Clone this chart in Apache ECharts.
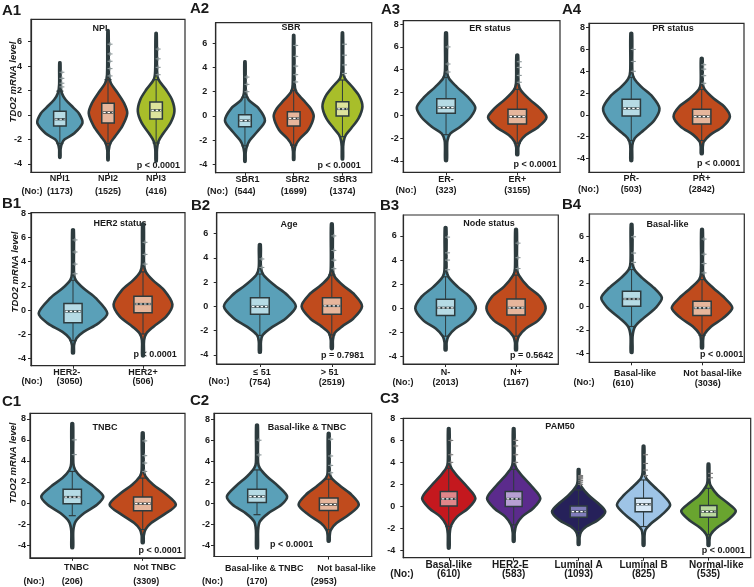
<!DOCTYPE html>
<html><head><meta charset="utf-8">
<script src="https://cdn.jsdelivr.net/npm/echarts@6/dist/echarts.min.js"></script>
<style>html,body{margin:0;padding:0;background:#fff}#chart{width:754px;height:587px}</style>
</head><body><div id="chart"></div>
<script>
// ---------------- DATA ----------------
const panelLetters = ['A1','A2','A3','A4','B1','B2','B3','B4','C1','C2','C3'];
const panelTitles = ['NPI','SBR','ER status','PR status','HER2 status','Age','Node status','Basal-like','TNBC','Basal-like & TNBC','PAM50'];
const pValueTexts = ['p < 0.0001','p < 0.0001','p < 0.0001','p < 0.0001','p < 0.0001','p = 0.7981','p = 0.5642','p < 0.0001','p < 0.0001','p < 0.0001','p < 0.0001'];
const yAxisTitle = 'TDO2 mRNA level';
const countsLabel = '(No:)';
const categories = [
  ['NPI1','NPI2','NPI3'],
  ['SBR1','SBR2','SBR3'],
  ['ER-','ER+'],
  ['PR-','PR+'],
  ['HER2-','HER2+'],
  ['≤ 51','> 51'],
  ['N-','N+'],
  ['Basal-like','Not basal-like'],
  ['TNBC','Not TNBC'],
  ['Basal-like & TNBC','Not basal-like'],
  ['Basal-like','HER2-E','Luminal A','Luminal B','Normal-like']
];
const sampleCounts = [
  [1173,1525,416],[544,1699,1374],[323,3155],[503,2842],[3050,506],[754,2519],
  [2013,1167],[610,3036],[206,3309],[170,2953],[610,583,1093,825,535]
];
const yTickValues = [
  [-4,-2,0,2,4,6],[-4,-2,0,2,4,6],[-4,-2,0,2,4,6,8],[-4,-2,0,2,4,6,8],
  [-4,-2,0,2,4,6,8],[-4,-2,0,2,4,6],[-4,-2,0,2,4,6],[-4,-2,0,2,4,6],
  [-4,-2,0,2,4,6,8],[-4,-2,0,2,4,6,8],[-4,-2,0,2,4,6,8]
];
// box statistics per group: [q1, median, q3, lower whisker, upper whisker]
const boxStats = [
  [[-0.9,-0.35,0.3,-2.35,1.95],[-0.65,0.2,0.95,-2.35,2.9],[-0.33,0.38,1.07,-2.3,2.9]],
  [[-0.88,-0.38,0.1,-2.45,1.55],[-0.82,-0.2,0.35,-2.4,2.1],[0.0,0.58,1.18,-1.7,2.96]],
  [[0.18,0.67,1.46,-1.7,3.33],[-0.76,-0.12,0.53,-2.45,2.28]],
  [[-0.1,0.6,1.44,-2.35,3.45],[-0.83,-0.15,0.52,-2.35,2.35]],
  [[-1.04,-0.11,0.55,-2.53,2.47],[-0.22,0.5,1.15,-1.98,3.16]],
  [[-0.66,-0.03,0.71,-2.4,2.66],[-0.66,0.03,0.71,-2.36,2.58]],
  [[-0.58,0.05,0.75,-2.3,2.62],[-0.55,0.05,0.77,-2.3,2.76]],
  [[0.03,0.66,1.32,-1.7,3.19],[-0.75,-0.11,0.46,-2.47,2.33]],
  [[-0.06,0.57,1.32,-1.2,3.0],[-0.73,-0.06,0.57,-2.52,2.37]],
  [[0.06,0.63,1.33,-1.1,3.17],[-0.7,-0.13,0.48,-2.54,2.29]],
  [[0.03,0.67,1.34,-1.85,3.47],[-0.03,0.67,1.34,-1.7,3.37],[-1.0,-0.49,0.03,-2.31,1.49],[-0.49,0.18,0.73,-1.85,2.4],[-1.0,-0.49,0.06,-2.6,1.64]]
];
// violin density profiles per group: [value, half-width (x-axis units)], bottom to top
const violinProfiles = [
  [
    [[-3.5,0.012],[-2.8,0.015],[-2.35,0.04],[-2.0,0.1],[-1.5,0.3],[-0.65,0.47],[0.1,0.4],[0.6,0.28],[1.25,0.12],[1.8,0.04],[2.5,0.015],[4.3,0.012]],
    [[-3.7,0.012],[-2.9,0.015],[-2.3,0.05],[-1.75,0.15],[-0.9,0.3],[0.15,0.4],[1.0,0.33],[1.8,0.2],[2.6,0.06],[3.3,0.02],[6.94,0.012]],
    [[-3.8,0.012],[-2.8,0.018],[-2.15,0.05],[-1.5,0.15],[-0.65,0.3],[0.3,0.38],[1.25,0.33],[2.1,0.2],[2.9,0.05],[3.6,0.02],[6.72,0.012]]
  ],
  [
    [[-3.75,0.012],[-3.0,0.015],[-2.5,0.04],[-2.0,0.1],[-1.3,0.25],[-0.38,0.41],[0.63,0.28],[1.3,0.08],[1.9,0.02],[4.47,0.012]],
    [[-3.6,0.012],[-2.9,0.015],[-2.4,0.04],[-1.85,0.13],[-1.15,0.3],[-0.05,0.41],[0.6,0.35],[1.3,0.2],[2.0,0.05],[2.6,0.02],[6.66,0.012]],
    [[-3.56,0.012],[-2.5,0.015],[-2.0,0.03],[-1.55,0.07],[-1.0,0.18],[-0.2,0.33],[0.77,0.41],[1.6,0.35],[2.4,0.2],[3.1,0.05],[3.7,0.02],[6.85,0.012]]
  ],
  [
    [[-4.0,0.012],[-2.8,0.015],[-2.2,0.02],[-1.6,0.06],[-1.0,0.2],[-0.12,0.35],[0.7,0.41],[1.64,0.3],[2.5,0.15],[3.25,0.04],[3.9,0.015],[7.25,0.012]],
    [[-3.48,0.012],[-2.8,0.015],[-2.3,0.04],[-1.73,0.12],[-1.0,0.3],[-0.18,0.41],[0.6,0.32],[1.35,0.18],[2.2,0.05],[2.8,0.018],[5.3,0.012]]
  ],
  [
    [[-4.2,0.012],[-2.8,0.015],[-2.14,0.05],[-1.38,0.18],[-0.46,0.33],[0.6,0.4],[1.68,0.3],[2.6,0.14],[3.36,0.04],[4.0,0.015],[7.5,0.012]],
    [[-3.58,0.012],[-2.9,0.015],[-2.45,0.03],[-1.83,0.12],[-1.07,0.3],[-0.15,0.4],[0.76,0.32],[1.5,0.17],[2.35,0.04],[2.9,0.015],[5.2,0.012]]
  ],
  [
    [[-3.57,0.012],[-2.9,0.015],[-2.33,0.05],[-1.8,0.15],[-1.1,0.36],[-0.27,0.49],[0.96,0.33],[1.8,0.15],[2.47,0.04],[3.0,0.015],[6.65,0.012]],
    [[-3.8,0.012],[-2.5,0.015],[-1.92,0.05],[-1.37,0.15],[-0.55,0.33],[0.47,0.42],[1.65,0.3],[2.47,0.14],[3.16,0.04],[3.8,0.015],[7.14,0.012]]
  ],
  [
    [[-3.8,0.012],[-2.9,0.015],[-2.36,0.04],[-1.67,0.18],[-1.0,0.36],[0,0.5],[0.93,0.38],[1.75,0.2],[2.58,0.05],[3.2,0.015],[5.1,0.012]],
    [[-3.5,0.012],[-2.75,0.015],[-2.2,0.04],[-1.67,0.14],[-1.0,0.3],[0,0.42],[0.93,0.32],[1.75,0.15],[2.44,0.04],[3.0,0.015],[6.8,0.012]]
  ],
  [
    [[-3.45,0.012],[-2.8,0.015],[-2.3,0.04],[-1.66,0.14],[-0.97,0.32],[0,0.43],[0.97,0.34],[1.8,0.17],[2.62,0.04],[3.2,0.015],[6.7,0.012]],
    [[-3.45,0.012],[-2.8,0.015],[-2.3,0.04],[-1.66,0.14],[-0.97,0.32],[0,0.42],[0.97,0.34],[1.8,0.17],[2.76,0.04],[3.3,0.015],[6.55,0.012]]
  ],
  [
    [[-3.94,0.012],[-2.5,0.015],[-1.7,0.05],[-0.98,0.17],[-0.11,0.34],[0.75,0.43],[1.6,0.32],[2.47,0.15],[3.19,0.04],[3.8,0.015],[7.07,0.012]],
    [[-3.56,0.012],[-2.9,0.015],[-2.4,0.03],[-1.7,0.13],[-0.98,0.3],[-0.1,0.43],[0.75,0.32],[1.6,0.16],[2.33,0.04],[2.9,0.015],[6.64,0.012]]
  ],
  [
    [[-4.26,0.012],[-2.6,0.015],[-1.73,0.05],[-0.95,0.17],[-0.16,0.35],[0.63,0.44],[1.58,0.3],[2.37,0.14],[3.15,0.04],[3.8,0.015],[7.57,0.012]],
    [[-3.79,0.012],[-3.1,0.015],[-2.5,0.04],[-1.9,0.12],[-1.1,0.3],[-0.16,0.47],[0.95,0.31],[1.73,0.15],[2.52,0.04],[3.1,0.015],[6.69,0.012]]
  ],
  [
    [[-4.29,0.012],[-2.6,0.015],[-1.75,0.04],[-0.95,0.16],[-0.16,0.34],[0.63,0.42],[1.59,0.3],[2.54,0.14],[3.33,0.04],[3.9,0.015],[7.46,0.012]],
    [[-3.65,0.012],[-3.1,0.015],[-2.54,0.03],[-1.9,0.11],[-1.11,0.28],[-0.16,0.42],[0.79,0.32],[1.59,0.17],[2.38,0.04],[2.9,0.015],[6.67,0.012]]
  ],
  [
    [[-3.83,0.012],[-2.5,0.015],[-1.7,0.04],[-0.94,0.13],[-0.18,0.3],[0.73,0.41],[1.8,0.28],[2.7,0.14],[3.47,0.04],[4.0,0.015],[7.1,0.012]],
    [[-3.22,0.012],[-2.4,0.015],[-1.7,0.04],[-0.94,0.13],[-0.18,0.3],[0.73,0.41],[1.8,0.28],[2.7,0.14],[3.47,0.04],[4.0,0.015],[7.1,0.012]],
    [[-3.5,0.012],[-2.8,0.015],[-2.31,0.04],[-1.85,0.12],[-1.25,0.3],[-0.49,0.41],[0.27,0.3],[1.03,0.15],[1.8,0.04],[2.3,0.015],[3.37,0.012]],
    [[-3.59,0.012],[-2.7,0.015],[-2.16,0.03],[-1.55,0.12],[-0.79,0.28],[0.12,0.41],[1.03,0.3],[1.8,0.16],[2.55,0.04],[3.1,0.015],[5.5,0.012]],
    [[-3.59,0.012],[-3.1,0.015],[-2.6,0.03],[-2.0,0.12],[-1.25,0.3],[-0.43,0.42],[0.27,0.3],[1.03,0.14],[1.8,0.04],[2.3,0.015],[3.86,0.012]]
  ]
];
// outlying points (beyond whiskers) that stand out beside the tails
const outlierValues = [
  [[2.3,2.6,3.0,3.5],[3.2,3.8,4.4,5.0,5.8],[3.3,3.9,4.6,5.4]],
  [[2.0,2.6,3.2],[2.8,3.4,4.1,4.9,5.8],[3.5,4.2,5.0,5.9]],
  [[3.8,4.5,6.0],[2.9,3.5,4.2,4.7]],
  [[4.0,4.9,6.0],[2.9,3.6,4.2,4.6]],
  [[3.0,3.8,4.8,5.8],[3.8,4.6,5.6]],
  [[3.2,3.9],[3.1,3.8,4.6,5.8]],
  [[3.2,4.0,4.6,5.9],[3.3,4.2,5.4]],
  [[3.8,4.6,6.0],[2.9,3.7,4.5,5.8]],
  [[4.6,6.0],[3.0,3.8,4.5,5.9]],
  [[4.6,6.0],[2.9,3.6,4.5,6.1]],
  [[4.0,4.7,6.0],[4.0,4.7,5.5,6.0],[2.0,2.2,2.35,2.5,2.6,2.7,2.8],[2.8,3.3,3.9,4.7],[2.6,3.0]]
];

// ---------------- STYLE / LAYOUT ----------------
const FONT = '"Liberation Sans", Arial, Helvetica, sans-serif';
const OUTLINE = '#2d3b3e';
const TEXT = '#1a1a1a';
const baseFills = ['#5aa0b8', '#c04b1d', '#a8be2a'];
const baseBoxFills = ['#b6dbe5', '#e6b69c', '#dde39c'];
const pamFills = ['#c4181e', '#5b2b8c', '#26215a', '#9ec4e6', '#69a42f'];
const pamBoxFills = ['#e0868a', '#b79fd3', '#807cba', '#d9e9f6', '#b9d99d'];

const layouts = [
  {g:[31,19.3,154,153],   y:[-4.7,7.84], x:[0.4,3.6], ym:9,  c1:6.7, c2:19.4, letter:[2,11],   title:[100,28.3], p:[180,165.7,'right'], no:[32,191.7], ls:[0,0,0], cs:[0,0,0], yname:[13.5,82]},
  {g:[215.7,22.7,156,150],y:[-4.66,7.67],x:[0.4,3.6], ym:8.4,c1:7.3, c2:19,   letter:[190,9],  title:[291,28],   p:[360.7,165.7,'right'], no:[217.5,191.7], ls:[0.05,0.08,0.05], cs:[0,0,0]},
  {g:[403.3,20.7,156.7,151.6],y:[-5.0,8.3],x:[0.4,2.6], ym:4.5,c1:7.7, c2:18.4, letter:[381,10], title:[490,29],   p:[556.7,164.3,'right'], no:[406,191], ls:[0,0], cs:[0,0]},
  {g:[589,23.3,155,149],  y:[-5.26,8.4], x:[0.4,2.6], ym:4,  c1:6.7, c2:17.7, letter:[562,10], title:[673,29],   p:[740.3,163.3,'right'], no:[588.5,190], ls:[0,0], cs:[0,0]},
  {g:[31,212.7,154,153],  y:[-4.6,8.05], x:[0.4,2.6], ym:5,  c1:7.3, c2:16.3, letter:[2,204],  title:[120,224],  p:[176.7,355,'right'], no:[32,382], ls:[-0.09,0], cs:[-0.05,0], yname:[15,272]},
  {g:[216.7,212.7,158.3,151.3],y:[-4.75,7.71],x:[0.4,2.6], ym:8.4,c1:8.7, c2:18.7, letter:[191,206], title:[289,224.3], p:[364.3,355.7,'right'], no:[219,382], ls:[0.03,-0.03], cs:[0,0]},
  {g:[403.3,215,155,149], y:[-4.6,7.73], x:[0.4,2.6], ym:6.6,c1:8.7, c2:18.7, letter:[380,206], title:[489,224],  p:[553.3,356,'right'], no:[403,383], ls:[0,0], cs:[0,0]},
  {g:[589.3,214,155,148.3],y:[-4.77,7.95],x:[0.4,2.6], ym:5.3,c1:11,  c2:21,   letter:[562,205], title:[667.5,224.3], p:[743.3,354.3,'right'], no:[584,383], ls:[0.05,0.15], cs:[-0.12,0.08]},
  {g:[30,413.3,155,145],  y:[-5.2,8.52], x:[0.4,2.6], ym:4,  c1:9.7, c2:23.7, letter:[2,402],  title:[105,427.7], p:[181.7,551,'right'], no:[34,582], ls:[0.06,0.17], cs:[0,0.05], yname:[13.5,463]},
  {g:[214,413.3,157.7,143.4],y:[-5.09,8.57],x:[0.4,2.6], ym:4,  c1:11.6,c2:25,   letter:[190,401], title:[307,427.3], p:[291.7,545,'center'], no:[212.5,582], ls:[0.1,0.25], cs:[0,-0.07]},
  {g:[403.3,418.3,347.4,139.4],y:[-4.69,8.02],x:[0.3,5.65], ym:8, c1:7.3, c2:16.3, letter:[380,399], title:[560,426.7], p:[745,550.7,'right'], no:[402,574], ls:[0,-0.05,0,0,0.12], cs:[0,0,0,0,0], fs:10}
];
const BOX_HALF = 0.13;

// ---------------- BUILD ----------------
const grids = [], xAxes = [], yAxes = [], series = [], graphics = [];
layouts.forEach((L, p) => {
  const fs = L.fs || 9;
  grids.push({left:L.g[0], top:L.g[1], width:L.g[2], height:L.g[3], show:true, borderColor:'#2a2a2a', borderWidth:1.2, backgroundColor:'transparent'});
  const catIdx = categories[p].map((c,i)=>i+1);
  xAxes.push({
    type:'value', gridIndex:p, min:L.x[0], max:L.x[1],
    splitLine:{show:false},
    axisLine:{show:true, onZero:false, lineStyle:{color:'#2a2a2a', width:1.2}},
    axisTick:{show:true, customValues:catIdx, length:3, lineStyle:{color:'#2a2a2a'}},
    axisLabel:{show:true, customValues:catIdx.map((v,i)=>v+L.ls[i]), margin:L.c1-5.5,
      fontFamily:FONT, fontWeight:'bold', fontSize:fs, color:TEXT, lineHeight:11,
      formatter:(v)=>categories[p][Math.round(v)-1]}
  });
  xAxes.push({
    type:'value', gridIndex:p, min:L.x[0], max:L.x[1], position:'bottom',
    splitLine:{show:false}, axisLine:{show:false}, axisTick:{show:false},
    axisLabel:{show:true, customValues:catIdx.map((v,i)=>v+L.cs[i]), margin:L.c2-5.5,
      fontFamily:FONT, fontWeight:'bold', fontSize:fs, color:TEXT, lineHeight:11,
      formatter:(v)=>'(' + sampleCounts[p][Math.round(v)-1] + ')'}
  });
  yAxes.push({
    type:'value', gridIndex:p, min:L.y[0], max:L.y[1],
    splitLine:{show:false},
    axisLine:{show:true, onZero:false, lineStyle:{color:'#2a2a2a', width:1.2}},
    axisTick:{show:true, customValues:yTickValues[p], length:3, lineStyle:{color:'#2a2a2a'}},
    axisLabel:{show:true, customValues:yTickValues[p], margin:L.ym, fontFamily:FONT, fontWeight:'bold', fontSize:9, color:TEXT}
  });
  const fills = p === 10 ? pamFills : baseFills;
  const boxFills = p === 10 ? pamBoxFills : baseBoxFills;
  const outColor = p === 10 ? '#7a7a7a' : '#8a9597';
  series.push({
    type:'custom', xAxisIndex:2*p, yAxisIndex:p, clip:false,
    data: categories[p].map((c,i)=>[i+1, boxStats[p][i][1], i]),
    encode:{x:0, y:1},
    renderItem:function(params, api){
      const gi = api.value(2);
      const xc = api.value(0);
      const prof = violinProfiles[p][gi];
      const st = boxStats[p][gi];
      const right = prof.map(d => api.coord([xc + d[1], d[0]]));
      const left = prof.slice().reverse().map(d => api.coord([xc - d[1], d[0]]));
      const px = api.coord([xc, 0])[0];
      const yv = v => api.coord([xc, v])[1];
      const bx0 = api.coord([xc - BOX_HALF, 0])[0], bx1 = api.coord([xc + BOX_HALF, 0])[0];
      const yq1 = yv(st[0]), ymed = yv(st[1]), yq3 = yv(st[2]), ywl = yv(st[3]), ywh = yv(st[4]);
      const children = [
        {type:'polygon', shape:{points:right.concat(left), smooth:0.3}, style:{fill:fills[gi], stroke:OUTLINE, lineWidth:2.6, lineJoin:'round'}},
        {type:'line', shape:{x1:px, y1:ywl, x2:px, y2:ywh}, style:{stroke:OUTLINE, lineWidth:1}},
        {type:'line', shape:{x1:px-3.5, y1:ywl, x2:px+3.5, y2:ywl}, style:{stroke:OUTLINE, lineWidth:1.2}},
        {type:'line', shape:{x1:px-3.5, y1:ywh, x2:px+3.5, y2:ywh}, style:{stroke:OUTLINE, lineWidth:1.2}},
        {type:'rect', shape:{x:bx0, y:yq3, width:bx1-bx0, height:yq1-yq3}, style:{fill:boxFills[gi], stroke:OUTLINE, lineWidth:1.5}},
        {type:'line', shape:{x1:bx0+1, y1:ymed, x2:bx1-1, y2:ymed}, style:{stroke:OUTLINE, lineWidth:2.2}},
        {type:'line', shape:{x1:bx0+1.5, y1:ymed, x2:bx1-1.5, y2:ymed}, style:{stroke:'#ffffff', lineWidth:1.2, lineDash:[2.5,1.8]}}
      ];
      (outlierValues[p][gi] || []).forEach(v => {
        const oy = yv(v);
        children.push({type:'line', shape:{x1:px-0.5, y1:oy, x2:px+4.5, y2:oy}, style:{stroke:outColor, lineWidth:1.1}});
        children.push({type:'line', shape:{x1:px+2, y1:oy-2, x2:px+2, y2:oy+2}, style:{stroke:outColor, lineWidth:1}});
      });
      return {type:'group', children:children};
    }
  });
  const txt = (s, x, y, size, align, extra) => Object.assign({
    type:'text', x:x, y:y, silent:true,
    style:{text:s, fill:TEXT, fontFamily:FONT, fontWeight:'bold', fontSize:size, align:align, verticalAlign:'middle', textAlign:align, textVerticalAlign:'middle'}
  }, extra || {});
  graphics.push(txt(panelLetters[p], L.letter[0], L.letter[1], 15, 'left'));
  graphics.push(txt(panelTitles[p], L.title[0], L.title[1], 9, 'center'));
  graphics.push(txt(pValueTexts[p], L.p[0], L.p[1], 9, L.p[2]));
  graphics.push(txt(countsLabel, L.no[0], L.no[1], fs, 'center'));
  if (L.yname) {
    const t = txt(yAxisTitle, L.yname[0], L.yname[1], 9.5, 'center', {rotation:Math.PI/2});
    t.style.fontStyle = 'italic';
    graphics.push(t);
  }
});

const chart = echarts.init(document.getElementById('chart'), null, {renderer:'canvas'});
chart.setOption({
  animation:false,
  backgroundColor:'#ffffff',
  grid:grids, xAxis:xAxes, yAxis:yAxes, series:series, graphic:graphics
});
</script></body></html>
